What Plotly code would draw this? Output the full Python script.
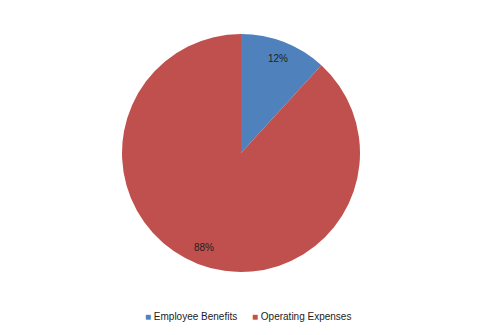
import math
import plotly.graph_objects as go

labels = ["Employee Benefits", "Operating Expenses"]
values = [11.8, 88.2]
colors = ["#4F81BD", "#C0504D"]

FONT = "Liberation Sans, Arial"

fig = go.Figure(go.Pie(
    labels=labels,
    values=values,
    marker=dict(colors=colors, line=dict(width=0)),
    sort=False,
    direction="clockwise",
    rotation=0,
    textinfo="none",
    hole=0,
    showlegend=False,
    domain=dict(x=[0, 1], y=[0, 1]),
))

# Percentage labels placed at slice mid-angles (computed from the data)
W, H = 482, 335
mt, mb = 34, 63
plot_h = H - mt - mb
R = plot_h / 2
total = sum(values)
cum = 0
for v in values:
    mid = (cum + v / 2) / total * 2 * math.pi
    cum += v
    r = 0.85 * R
    dx = r * math.sin(mid)
    dy = r * math.cos(mid)
    fig.add_annotation(
        x=0.5 + dx / W, y=0.5 + dy / plot_h,
        xref="paper", yref="paper",
        xanchor="center", yanchor="middle",
        text=f"{round(v / total * 100)}%",
        showarrow=False,
        font=dict(family=FONT, size=10, color="#222222"),
    )

# Legend drawn as text with coloured square glyphs
legend_y = -(316 - (H - mb)) / plot_h
legend_x = [143 / W, 250 / W]
for lab, col, lx in zip(labels, colors, legend_x):
    fig.add_annotation(
        x=lx, y=legend_y, xref="paper", yref="paper",
        xanchor="left", yanchor="middle",
        text=f"<span style='color:{col}'>■</span> {lab}",
        showarrow=False,
        font=dict(family=FONT, size=10, color="#222222"),
    )

fig.update_layout(
    width=W, height=H,
    margin=dict(l=0, r=0, t=mt, b=mb),
    paper_bgcolor="white",
    plot_bgcolor="white",
    showlegend=False,
)

fig.write_html("out.html")
